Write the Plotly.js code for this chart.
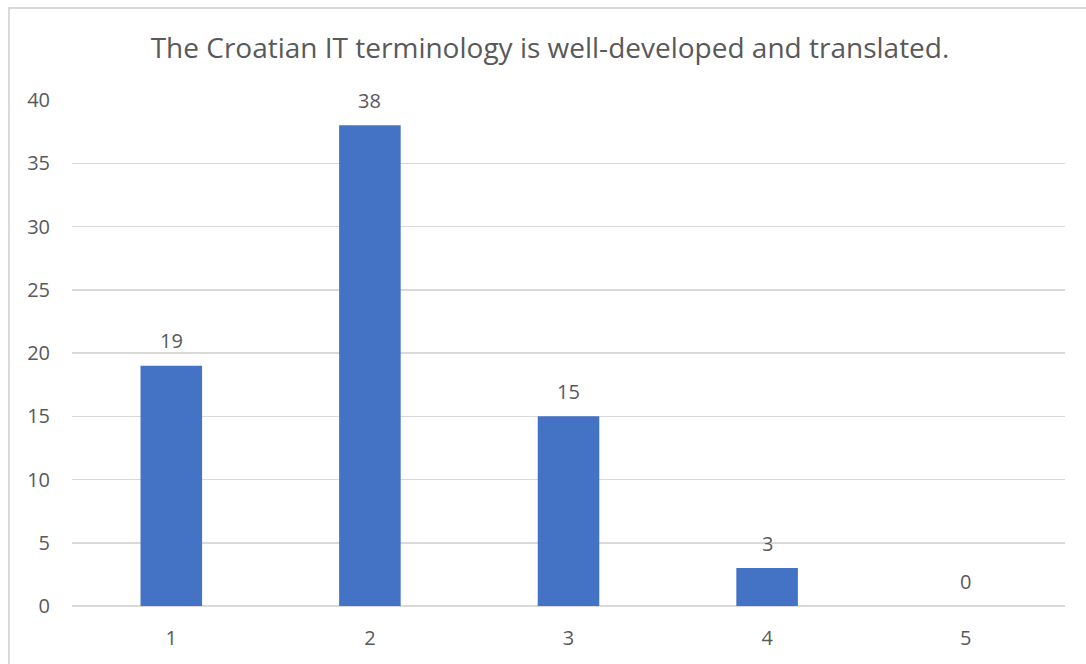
<!DOCTYPE html>
<html>
<head>
<meta charset="utf-8">
<script src="https://cdn.plot.ly/plotly-3.0.1.min.js"></script>
<style>
  html, body { margin: 0; padding: 0; background: #fff; overflow: hidden; }
  #frame { position: absolute; left: 8px; top: 7px; width: 1200px; height: 800px; border: 2px solid #d9d9d9; box-sizing: border-box; }
  #chart { position: absolute; left: 0; top: 0; width: 1086px; height: 664px; }
</style>
</head>
<body>
<div id="frame"></div>
<div id="chart"></div>
<script>
const categories = ['1', '2', '3', '4', '5'];
const values = [19, 38, 15, 3, 0];
const yTicks = [0, 5, 10, 15, 20, 25, 30, 35, 40];
const chartTitle = 'The Croatian IT terminology is well-developed and translated.';

const FONT = '"Open Sans", "Noto Sans", sans-serif';
const GREY = '#595959';

const trace = {
  type: 'bar',
  x: categories,
  y: values,
  marker: { color: '#4472C4' },
  hoverinfo: 'x+y'
};

const annotations = categories.map((c, i) => ({
  x: i, y: values[i], xref: 'x', yref: 'y',
  text: String(values[i]), showarrow: false,
  yanchor: 'middle', yshift: 25,
  font: { family: FONT, size: 20, color: GREY }
}));

const layout = {
  width: 1086, height: 664,
  margin: { l: 72, r: 21, t: 100, b: 58 },
  paper_bgcolor: 'rgba(0,0,0,0)',
  plot_bgcolor: 'rgba(0,0,0,0)',
  bargap: 0.69,
  title: {
    text: chartTitle,
    font: { family: FONT, size: 28, color: GREY },
    x: 550 / 1086, xanchor: 'center', xref: 'container',
    y: 1 - 48 / 664, yanchor: 'middle', yref: 'container'
  },
  xaxis: {
    type: 'category',
    range: [-0.5, 4.5],
    showgrid: false, zeroline: false, showline: false,
    ticks: 'outside', ticklen: 14, tickcolor: 'rgba(0,0,0,0)',
    tickfont: { family: FONT, size: 20, color: GREY }
  },
  yaxis: {
    range: [0, 40],
    tickvals: yTicks,
    ticktext: yTicks.map(String),
    showgrid: true, gridcolor: '#d9d9d9', gridwidth: 1.5,
    zeroline: true, zerolinecolor: '#d9d9d9', zerolinewidth: 1.5,
    showline: false,
    ticks: 'outside', ticklen: 17, tickcolor: 'rgba(0,0,0,0)',
    tickfont: { family: FONT, size: 20, color: GREY }
  },
  annotations: annotations,
  showlegend: false
};

Plotly.newPlot('chart', [trace], layout, { displayModeBar: false, staticPlot: true });
</script>
</body>
</html>
